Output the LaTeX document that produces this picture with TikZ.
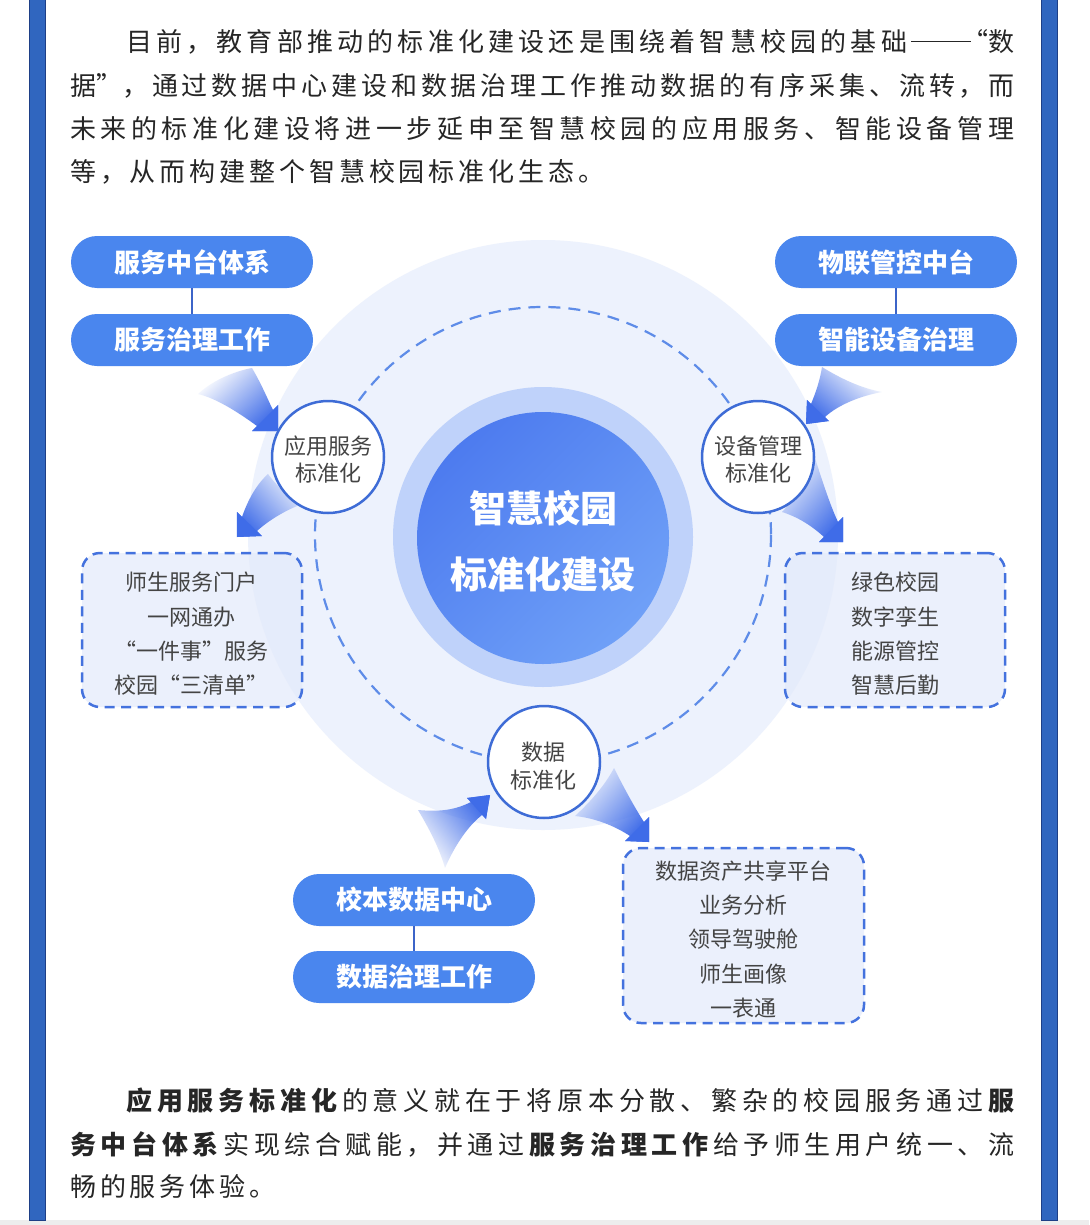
\documentclass[tikz,border=0pt]{standalone}
\usepackage{fontspec}
\setmainfont{Noto Sans CJK SC}
\usetikzlibrary{fadings}
\definecolor{barblue}{HTML}{3066BF}
\definecolor{bardark}{HTML}{1E3F86}
\definecolor{stripgray}{HTML}{EDEDED}
\definecolor{paratext}{HTML}{262626}
\definecolor{pillblue}{HTML}{4A86EE}
\definecolor{connblue}{HTML}{3C64C8}
\definecolor{ringedge}{HTML}{3E6CD6}
\definecolor{boxedge}{HTML}{4472DE}
\definecolor{dashblue}{HTML}{5E8CE8}
\definecolor{ringblue}{HTML}{BFD2FA}
\definecolor{paleblue}{HTML}{EDF2FD}
\definecolor{boxfill}{HTML}{E3EAFB}
\definecolor{graytext}{HTML}{444444}
\definecolor{arrowblue}{HTML}{3F6CE8}
\definecolor{coreA}{HTML}{4D7BEF}
\definecolor{coreB}{HTML}{6FA0F7}
\tikzfading[name=tailfade, bottom color=transparent!100, top color=transparent!0]
\tikzset{
  paraline/.style={anchor=west, inner sep=0pt, text=paratext, font=\fontsize{26}{30}\selectfont},
  pill/.style={rectangle, rounded corners=26pt, fill=pillblue, text=white, minimum width=242pt, minimum height=52pt, inner sep=0pt, font=\fontsize{26}{30}\selectfont\bfseries},
  conn/.style={draw=connblue, line width=2pt},
  stdcircle/.style={circle, draw=ringedge, line width=2.5pt, fill=white, minimum size=112pt, inner sep=0pt},
  circletext/.style={align=center, text=graytext, inner sep=0pt, font=\fontsize{22}{27}\selectfont},
  dbox/.style={rectangle, rounded corners=18pt, draw=boxedge, line width=2.5pt, dash pattern=on 10pt off 6.5pt, fill=boxfill, fill opacity=0.7, inner sep=0pt},
  boxtext/.style={text=graytext, align=center, inner sep=0pt, font=\fontsize{22}{34.3}\selectfont},
  swoosh/.style={fill=arrowblue, path fading=tailfade},
  arrowhead/.style={fill=arrowblue}
}
\begin{document}
\begin{tikzpicture}[x=1pt,y=-1pt]
\useasboundingbox (0,0) rectangle (1089,1225);
\fill[white] (0,0) rectangle (1089,1225);
\fill[stripgray] (0,1220) rectangle (1089,1225);
\filldraw[fill=barblue, draw=bardark, line width=0.8pt] (29.5,-2) rectangle (45.5,1220);
\filldraw[fill=barblue, draw=bardark, line width=0.8pt] (1041,-2) rectangle (1057,1220);

% top paragraph
\node[paraline] (t1) at (126,42) {\makebox[888pt][s]{目 前 ， 教 育 部 推 动 的 标 准 化 建 设 还 是 围 绕 着 智 慧 校 园 的 基 础 \mbox{\rule[9.5pt]{60pt}{1.6pt}\hspace{-9pt}“数}}};
\node[paraline] (t2) at (70,85.5) {\makebox[944pt][s]{据”， 通 过 数 据 中 心 建 设 和 数 据 治 理 工 作 推 动 数 据 的 有 序 采 集 、 流 转 ， 而}};
\node[paraline] (t3) at (70,129) {\makebox[944pt][s]{未 来 的 标 准 化 建 设 将 进 一 步 延 申 至 智 慧 校 园 的 应 用 服 务 、 智 能 设 备 管 理}};
\node[paraline] (t4) at (70,172) {\makebox[515.6pt][s]{等 ， 从 而 构 建 整 个 智 慧 校 园 标 准 化 生 态 。}};

% pale background disc
\fill[paleblue] (543,535) circle (295);

% swoosh arrows (bodies)
\fill[swoosh, fading angle=-130] (278,431) -- (252,431) -- (257,426) .. controls (235,410) and (215,398) .. (198,394) .. controls (215,378) and (240,370) .. (252,368) .. controls (262,385) and (268,400) .. (273,410) -- (278,405) -- cycle;
\fill[swoosh, fading angle=130] (237,537) -- (237,512) -- (242,517) .. controls (248,500) and (256,485) .. (268,474) .. controls (280,490) and (292,500) .. (305,503) .. controls (285,510) and (268,521) .. (257,531) -- (262,536) -- cycle;
\fill[swoosh, fading angle=131] (806,424) -- (807,400) -- (811,404) .. controls (816,392) and (820,380) .. (822,367) .. controls (840,378) and (860,388) .. (882,392) .. controls (860,396) and (838,405) .. (825,417) -- (829,421) -- cycle;
\fill[swoosh, fading angle=-140] (843,542) -- (819,542) -- (824,537) .. controls (812,526) and (798,517) .. (782,512) .. controls (798,495) and (810,475) .. (814,455) .. controls (822,480) and (830,505) .. (838,522) -- (843,517) -- cycle;
\fill[swoosh, fading angle=-52] (490,795) -- (467,798) -- (471,802) .. controls (455,810) and (440,812) .. (418,810) .. controls (430,830) and (440,850) .. (445,868) .. controls (455,845) and (468,826) .. (482,815) -- (486,819) -- cycle;
\fill[swoosh, fading angle=-130] (649,842) -- (625,841) -- (630,836) .. controls (615,826) and (595,818) .. (575,816) .. controls (592,800) and (605,785) .. (614,768) .. controls (625,790) and (635,808) .. (644,822) -- (649,817) -- cycle;
% arrow heads
\fill[arrowhead] (278,431) -- (252,431) -- (278,405) -- cycle;
\fill[arrowhead] (237,537) -- (237,512) -- (262,536) -- cycle;
\fill[arrowhead] (806,424) -- (807,400) -- (829,421) -- cycle;
\fill[arrowhead] (843,542) -- (819,542) -- (843,517) -- cycle;
\fill[arrowhead] (490,795) -- (467,798) -- (486,819) -- cycle;
\fill[arrowhead] (649,842) -- (625,841) -- (649,817) -- cycle;

% dashed orbit
\draw[dashblue, line width=2.2pt, dash pattern=on 12pt off 8pt] (543,535) circle (228);

% centre
\node[circle, fill=ringblue, minimum size=300pt, inner sep=0pt] (ring) at (543,537) {};
\node[circle, top color=coreA, bottom color=coreB, shading angle=45, minimum size=252pt, inner sep=0pt] (core) at (543,538) {};
\node[align=center, text=white, inner sep=0pt, font=\fontsize{37}{66}\selectfont\bfseries] (coretext) at (543,541) {智慧校园\\标准化建设};

% standardisation circles
\node[stdcircle] (app) at (328,457) {};
\node[circletext] (apptext) at (328,460) {应用服务\\标准化};
\node[stdcircle] (dev) at (758,457) {};
\node[circletext] (devtext) at (758,460) {设备管理\\标准化};
\node[stdcircle] (data) at (544,762) {};
\node[circletext, font=\fontsize{22}{28}\selectfont] (datatext) at (543,766) {数据\\标准化};

% pills
\node[pill] (p1) at (192,262) {服务中台体系};
\node[pill] (p2) at (192,340) {服务治理工作};
\node[pill] (p3) at (896,262) {物联管控中台};
\node[pill] (p4) at (896,340) {智能设备治理};
\node[pill] (p5) at (414,900) {校本数据中心};
\node[pill] (p6) at (414,977) {数据治理工作};
\draw[conn] (p1) -- (p2);
\draw[conn] (p3) -- (p4);
\draw[conn] (p5) -- (p6);

% dashed boxes
\node[dbox, minimum width=220pt, minimum height=154pt] (lbox) at (192,630) {};
\node[boxtext] (lboxtext) at (191,634) {师生服务门户\\一网通办\\“一件事”服务\\校园“三清单”};
\node[dbox, minimum width=220pt, minimum height=154pt] (rbox) at (895,630) {};
\node[boxtext] (rboxtext) at (895,634) {绿色校园\\数字孪生\\能源管控\\智慧后勤};
\node[dbox, minimum width=241pt, minimum height=175pt] (bbox) at (743.5,935.5) {};
\node[boxtext] (bboxtext) at (743,939.5) {数据资产共享平台\\业务分析\\领导驾驶舱\\师生画像\\一表通};

% bottom paragraph
\node[paraline] (b1) at (126,1101) {\makebox[888pt][s]{\textbf{应 用 服 务 标 准 化} 的 意 义 就 在 于 将 原 本 分 散 、 繁 杂 的 校 园 服 务 通 过 \textbf{服}}};
\node[paraline] (b2) at (70,1144) {\makebox[944pt][s]{\textbf{务 中 台 体 系} 实 现 综 合 赋 能 ， 并 通 过 \textbf{服 务 治 理 工 作} 给 予 师 生 用 户 统 一 、 流}};
\node[paraline] (b3) at (70,1187) {\makebox[198.8pt][s]{畅 的 服 务 体 验 。}};
\end{tikzpicture}
\end{document}
